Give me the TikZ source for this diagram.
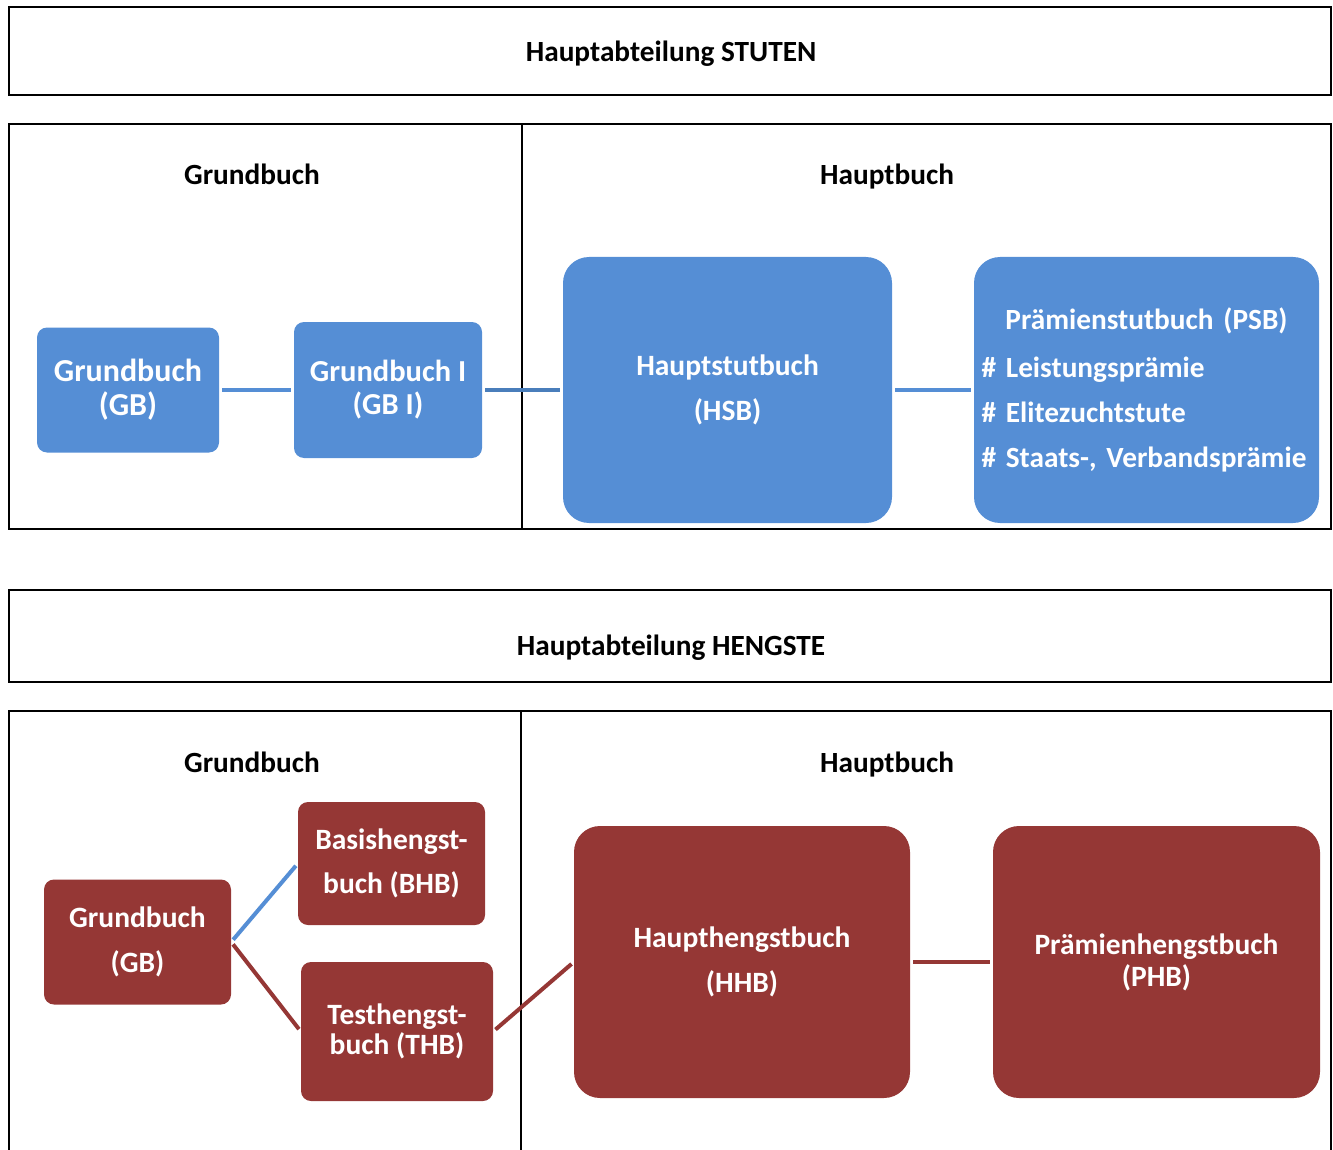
\documentclass[tikz,border=0pt]{standalone}
\usepackage{fontspec}
\setmainfont{Carlito}
\usetikzlibrary{positioning}
\definecolor{stutblue}{RGB}{85,142,213}
\definecolor{linkblue}{RGB}{74,126,187}
\definecolor{hengstred}{RGB}{149,55,53}

\begin{document}
\begin{tikzpicture}[x=1pt, y=-1pt,
    panel/.style={draw=black, line width=1.5pt},
    heading/.style={font=\fontsize{29.3}{32}\selectfont\bfseries, text height=20pt, text depth=6pt},
    book/.style={rounded corners=10pt, text=white, align=center, inner sep=0pt,
      font=\fontsize{29.5}{34}\selectfont\bfseries},
    bigbook/.style={book, rounded corners=26pt},
    link/.style={line width=4.5pt, shorten <=3pt, shorten >=3pt}]
    \useasboundingbox (0,0) rectangle (1333,1150);

    % Hauptabteilung STUTEN
    \draw[panel] (9,7) rectangle (1331,95);
    \node[heading] (stutenhead) at (671,55) {Hauptabteilung STUTEN};
    \draw[panel] (9,124) rectangle (1331,529);
    \draw[panel] (522,124) -- (522,529);
    \node[heading] (gbtitleS) at (252,178) {Grundbuch};
    \node[heading] (hbtitleS) at (887,178) {Hauptbuch};

    \node[book, fill=stutblue, minimum width=182pt, minimum height=125pt,
      font=\fontsize{32}{34}\selectfont\bfseries] (gbS) at (128,390) {Grundbuch\\(GB)};
    \node[book, fill=stutblue, minimum width=188pt, minimum height=136pt,
      font=\fontsize{30.5}{33}\selectfont\bfseries] (gbiS) at (388,390) {Grundbuch I\\(GB I)};
    \node[bigbook, fill=stutblue, minimum width=329pt, minimum height=266pt,
      font=\fontsize{29.5}{45}\selectfont\bfseries] (hsb) at (727.5,390) {Hauptstutbuch\\(HSB)};
    \node[bigbook, fill=stutblue, minimum width=345pt, minimum height=266pt,
      text width=330pt, align=left, font=\fontsize{29.3}{45}\selectfont\bfseries] (psb) at (1146.5,390)
      {\hfill Prämienstutbuch (PSB)\hfill\null\\[3pt]
       \# Leistungsprämie\\
       \# Elitezuchtstute\\
       \# Staats-, Verbandsprämie};

    \draw[link, stutblue] (gbS) -- (gbiS);
    \draw[link, linkblue] (gbiS) -- (hsb);
    \draw[link, stutblue] (hsb) -- (psb);

    % Hauptabteilung HENGSTE
    \draw[panel] (9,590) rectangle (1331,682);
    \node[heading] (hengsthead) at (671,648) {Hauptabteilung HENGSTE};
    \draw[panel] (9,1150) -- (9,711) -- (1331,711) -- (1331,1150);
    \draw[panel] (521,711) -- (521,1150);
    \node[heading] (gbtitleH) at (252,765) {Grundbuch};
    \node[heading] (hbtitleH) at (887,765) {Hauptbuch};

    \node[book, fill=hengstred, minimum width=187pt, minimum height=125pt,
      font=\fontsize{29.5}{45}\selectfont\bfseries] (gbH) at (137.5,942) {Grundbuch\\(GB)};
    \node[book, fill=hengstred, minimum width=187pt, minimum height=123pt,
      font=\fontsize{29.5}{44}\selectfont\bfseries] (bhb) at (391.5,863.5) {Basishengst-\\buch (BHB)};
    \node[book, fill=hengstred, minimum width=192pt, minimum height=139pt,
      font=\fontsize{29.5}{30}\selectfont\bfseries] (thb) at (397,1031.5) {Testhengst-\\buch (THB)};
    \node[bigbook, fill=hengstred, minimum width=336pt, minimum height=272pt,
      font=\fontsize{29.5}{45}\selectfont\bfseries] (hhb) at (742,962) {Haupthengstbuch\\(HHB)};
    \node[bigbook, fill=hengstred, minimum width=327pt, minimum height=272pt,
      font=\fontsize{29.5}{32}\selectfont\bfseries] (phb) at (1156.5,962) {Prämienhengstbuch\\(PHB)};

    \draw[link, stutblue, line width=4pt] (gbH.east) -- (bhb.west);
    \draw[link, hengstred, line width=4pt] (gbH.east) -- (thb.west);
    \draw[link, hengstred, line width=4pt] (thb.east) -- (hhb.west);
    \draw[link, hengstred] (hhb) -- (phb);
\end{tikzpicture}
\end{document}
